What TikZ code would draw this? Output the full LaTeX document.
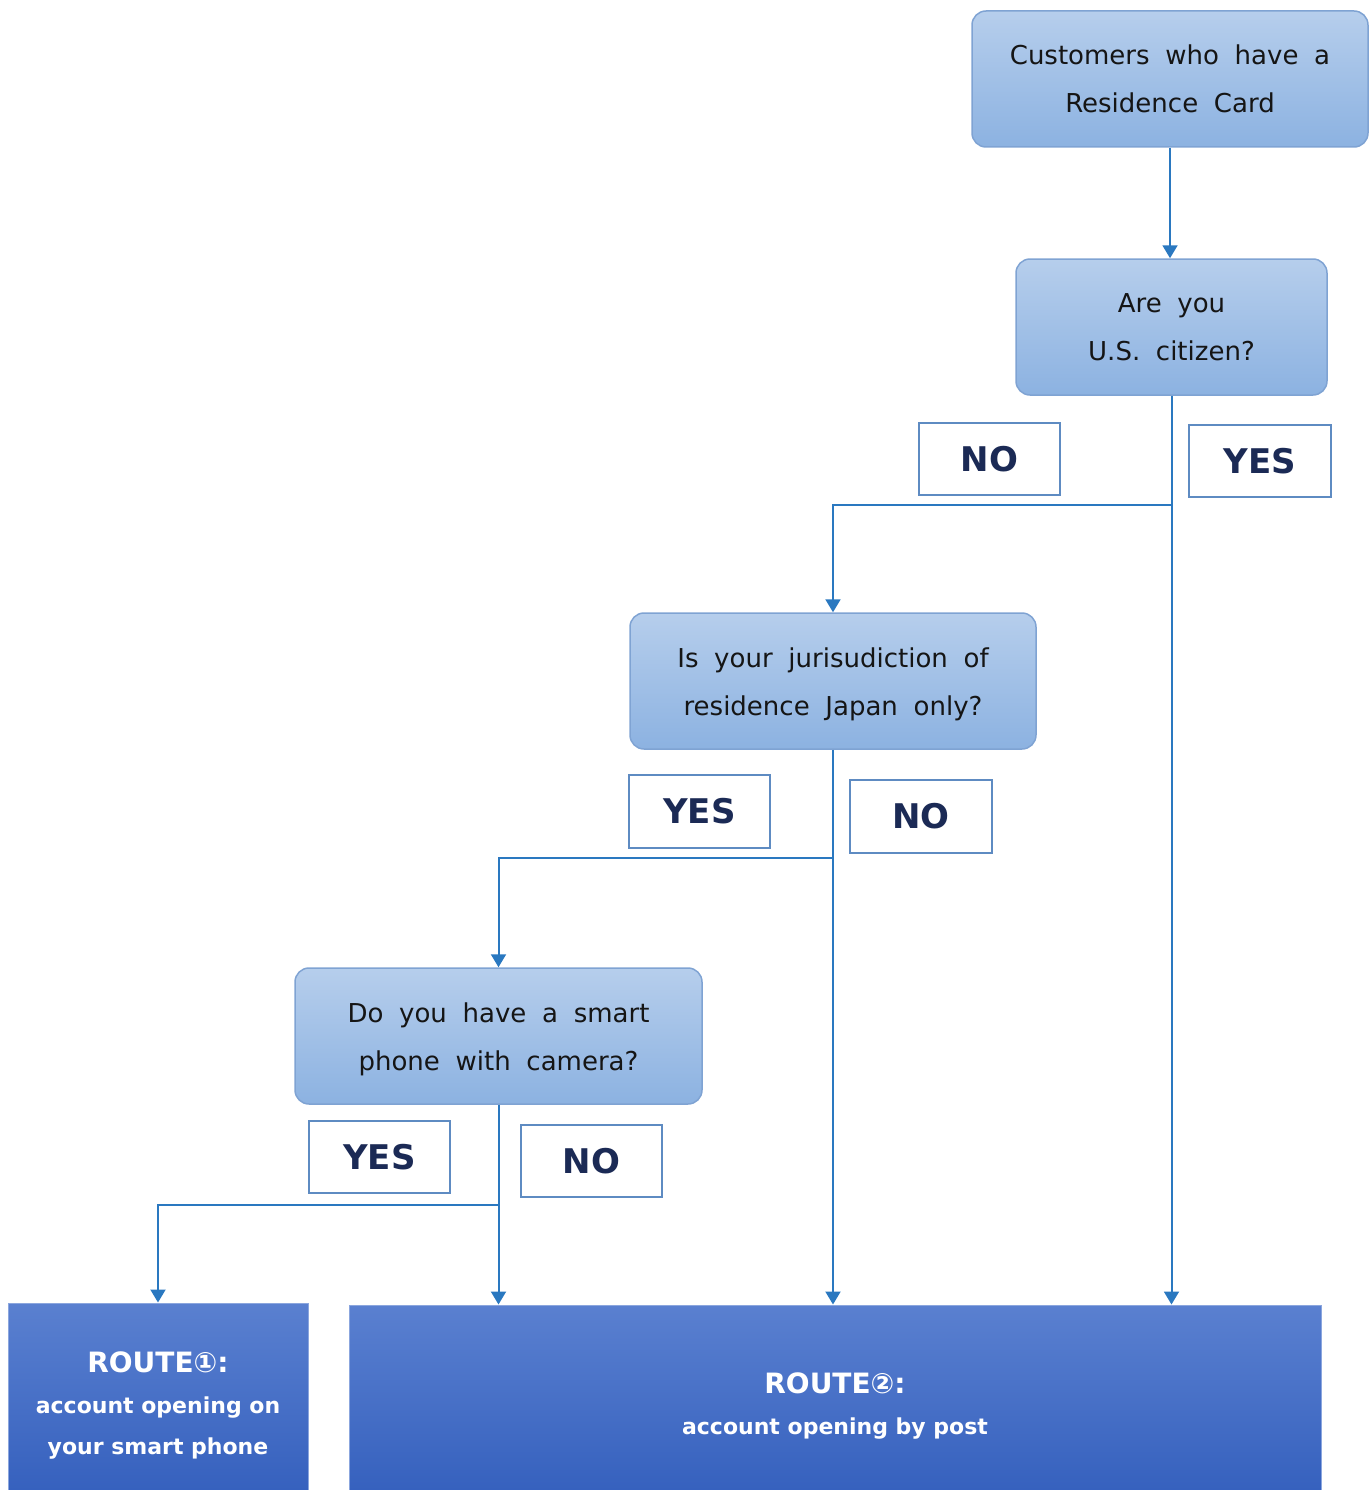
\documentclass[tikz,border=0pt]{standalone}
\usepackage{fontspec}
\setmainfont{DejaVu Sans}
\newfontfamily\qfont{DejaVu Sans}[WordSpace=1.9]
\usetikzlibrary{arrows.meta}
\definecolor{boxtop}{HTML}{B6CEEC}
\definecolor{boxbot}{HTML}{8CB2E1}
\definecolor{boxline}{HTML}{7FA3D3}
\definecolor{routetop}{HTML}{5A80D0}
\definecolor{routebot}{HTML}{3661BE}
\definecolor{flowblue}{HTML}{2A78C0}
\definecolor{tagline}{HTML}{5E8BC2}
\definecolor{tagtext}{HTML}{1B2A55}
\definecolor{qtext}{HTML}{151515}
\begin{document}
\begin{tikzpicture}[x=1pt,y=-1pt,
 qbox/.style={draw=boxline, line width=1.5pt, rounded corners=14pt, top color=boxtop, bottom color=boxbot, inner sep=0pt, align=center, text=qtext, font=\qfont\fontsize{26}{48}\selectfont},
 routebox/.style={draw=routetop!70!white, line width=1pt, top color=routetop, bottom color=routebot, inner sep=0pt, align=center, text=white, font=\fontsize{22}{41}\bfseries\selectfont},
 tag/.style={draw=tagline, line width=2.5pt, fill=white, inner sep=0pt, text=tagtext, font=\fontsize{34}{40}\bfseries\selectfont},
 flow/.style={draw=flowblue, line width=2pt, -{Triangle[width=15pt,length=13pt]}}]
\useasboundingbox (0,0) rectangle (1370,1490);
\node[qbox, minimum width=396pt, minimum height=136pt] (top) at (1170,79) {Customers who have a\\Residence Card};
\node[qbox, minimum width=311pt, minimum height=136pt] (q1) at (1171.5,327) {Are you\\U.S. citizen?};
\node[qbox, minimum width=406pt, minimum height=136pt] (q2) at (833,681) {\rule{0pt}{26pt}Is your jurisudiction of\\residence Japan only?};
\node[qbox, minimum width=407pt, minimum height=136pt] (q3) at (498.5,1036) {\rule{0pt}{26pt}Do you have a smart\\phone with camera?};
\node[routebox, minimum width=300pt, minimum height=187pt] (route1) at (158,1396.5) {\rule{0pt}{38pt}{\fontsize{28}{34}\selectfont ROUTE①:}\\account opening on\\your smart phone};
\node[routebox, minimum width=972pt, minimum height=185pt] (route2) at (835,1397.5) {\rule{0pt}{38pt}{\fontsize{28}{34}\selectfont ROUTE②:}\\account opening by post};
\node[tag, minimum width=141pt, minimum height=72pt] (no1) at (989.5,459) {NO};
\node[tag, minimum width=142pt, minimum height=72pt] (yes1) at (1260,461) {YES};
\node[tag, minimum width=141pt, minimum height=73pt] (yes2) at (699.5,811.5) {YES};
\node[tag, minimum width=142pt, minimum height=73pt] (no2) at (921,816.5) {NO};
\node[tag, minimum width=141pt, minimum height=72pt] (yes3) at (379.5,1157) {YES};
\node[tag, minimum width=141pt, minimum height=72pt] (no3) at (591.5,1161) {NO};
\coordinate (j1) at (1171.5,505);
\coordinate (j2) at (833,858);
\coordinate (j3) at (498.5,1205);
\draw[flow] (top.south) -- (top.south |- q1.north);
\draw[flow] (q1.south) -- (q1.south |- route2.north);
\draw[flow] (j1) -| (q2.north);
\draw[flow] (q2.south) -- (q2.south |- route2.north);
\draw[flow] (j2) -| (q3.north);
\draw[flow] (q3.south) -- (q3.south |- route2.north);
\draw[flow] (j3) -| (route1.north);
\end{tikzpicture}
\end{document}
